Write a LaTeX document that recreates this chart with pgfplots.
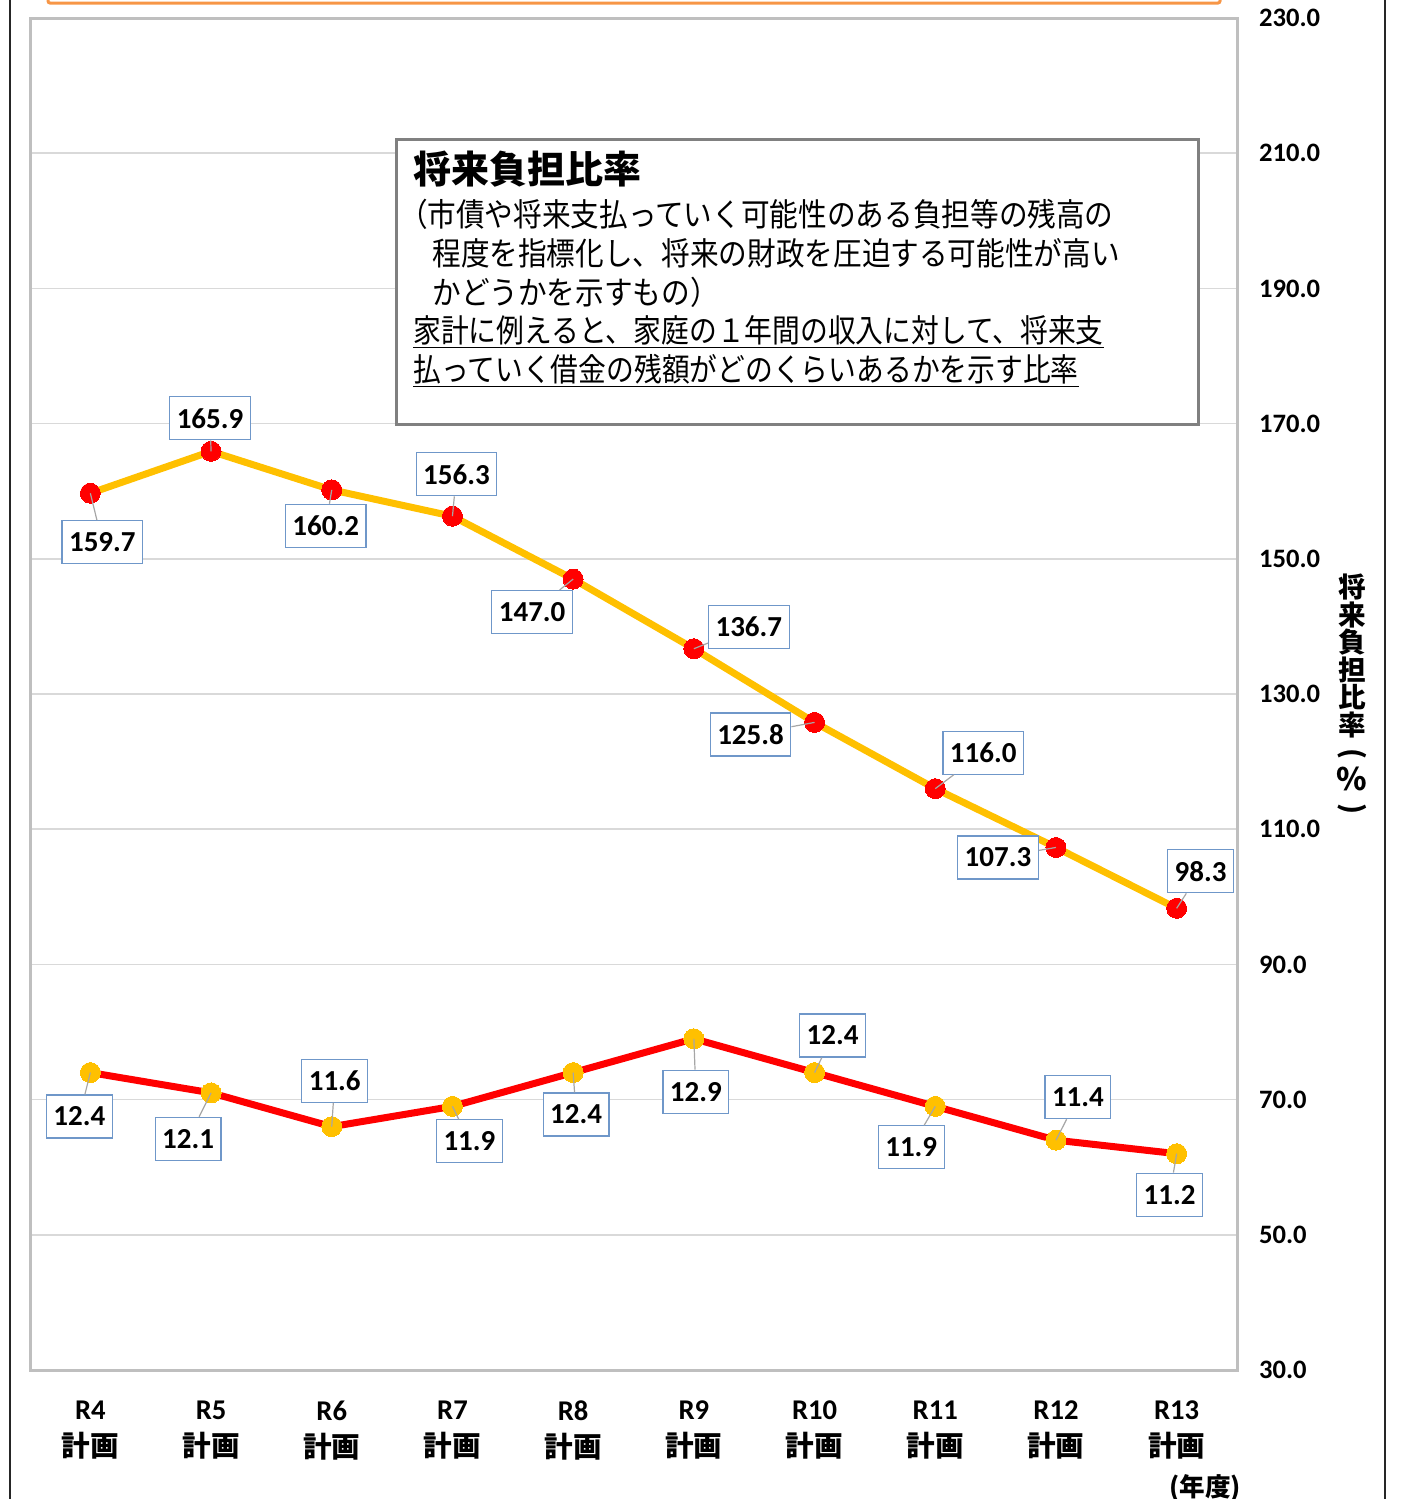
\documentclass[border=0pt]{standalone}
\usepackage{pgfplots}
\pgfplotsset{compat=1.18}
\usepackage{pgfplotstable}
\usepackage{graphicx}
\usepackage{fontspec}
\setmainfont{Carlito}
\newfontfamily\jp{Noto Sans CJK JP}
\newfontfamily\jpn[FakeStretch=0.895]{Noto Sans CJK JP}
\newfontfamily\jpm[FakeStretch=0.868]{Noto Sans CJK JP}
\definecolor{cyel}{HTML}{FFC000}
\definecolor{cred}{HTML}{FF0000}
\definecolor{cbox}{HTML}{6F97C9}
\definecolor{cgrid}{HTML}{D9D9D9}
\definecolor{cframe}{HTML}{BFBFBF}
\definecolor{clead}{HTML}{A6A6A6}
\definecolor{corange}{HTML}{F79646}
\definecolor{ctbox}{HTML}{808080}

\pgfplotsset{/pgf/number format/assume math mode=true}

\pgfplotstableread{
x y dx dy
0 159.7 6 -24.5
1 165.9 -0.5 16.5
2 160.2 -3 -18
3 156.3 2 21
4 147.0 -20.5 -16.5
5 136.7 27.5 11
6 125.8 -32 -6
7 116.0 24 18
8 107.3 -29 -5
9 98.3 12 18.5
}\tabA
\pgfplotstableread{
x y dx dy
0 12.4 -5.5 -22
1 12.1 -11.5 -23
2 11.6 1.5 23
3 11.9 8.5 -17.5
4 12.4 1.5 -21
5 12.9 1 -26.5
6 12.4 9 18.5
7 11.9 -12 -20.5
8 11.4 11 21.5
9 11.2 -3.5 -20.5
}\tabB

\pgfplotsset{lbl/.style={
  nodes near coords={\pgfmathprintnumber[fixed,fixed zerofill,precision=1]{\pgfplotspointmeta}},
  point meta=y,
  visualization depends on={\thisrow{dx}\as\dx},
  visualization depends on={\thisrow{dy}\as\dy},
  every node near coord/.style={anchor=center, xshift=\dx pt, yshift=\dy pt,
    draw=cbox, fill=white, text=black, line width=0.6pt,
    font=\bfseries\fontsize{14.5}{16}\selectfont,
    inner xsep=3.5pt, inner ysep=0pt, minimum height=21.5pt,
    append after command={([xshift=-\dx pt,yshift=-\dy pt]\tikzlastnode.center) edge[draw=clead, line width=0.6pt] (\tikzlastnode)}},
}}

\begin{document}
\begin{tikzpicture}
\path[use as bounding box] (0,0) rectangle (701pt,-749.5pt);
% outer frame pieces
\draw[black!85, line width=0.9pt] (5pt,0) -- (5pt,-749.5pt);
\draw[black!85, line width=0.9pt] (692.5pt,0) -- (692.5pt,-749.5pt);
\draw[corange, line width=1.5pt, rounded corners=1pt] (24pt,6pt) -- (24pt,-1.5pt) -- (610pt,-1.5pt) -- (610pt,6pt);

\begin{axis}[
  at={(15pt,-685pt)}, anchor=south west, scale only axis,
  width=603.5pt, height=676pt,
  xmin=-0.5, xmax=9.5, ymin=30, ymax=230,
  xtick={0,...,9},
  xticklabels={{R4\\{\jp 計画}},{R5\\{\jp 計画}},{R6\\{\jp 計画}},{R7\\{\jp 計画}},{R8\\{\jp 計画}},{R9\\{\jp 計画}},{R10\\{\jp 計画}},{R11\\{\jp 計画}},{R12\\{\jp 計画}},{R13\\{\jp 計画}}},
  ytick={30,50,...,230},
  yticklabel pos=right,
  ymajorgrids, grid style={cgrid, line width=0.8pt},
  axis line style={cframe, line width=1.5pt},
  major tick length=0pt,
  yticklabel style={font=\bfseries\fontsize{13.3}{15}\selectfont, anchor=west, xshift=7.5pt,
    /pgf/number format/fixed, /pgf/number format/fixed zerofill, /pgf/number format/precision=1},
  xticklabel style={font=\bfseries\fontsize{14.3}{18.5}\selectfont, align=center, yshift=-12pt},
  clip=false,
]
\addplot[color=cyel, line width=3.5pt, mark=*, mark size=5pt,
  mark options={solid, fill=cred, draw=cred, line width=0pt}, lbl] table[x=x,y=y]{\tabA};
\end{axis}

\begin{axis}[
  at={(15pt,-685pt)}, anchor=south west, scale only axis,
  width=603.5pt, height=676pt,
  xmin=-0.5, xmax=9.5, ymin=8, ymax=28,
  hide axis, clip=false,
]
\addplot[color=cred, line width=3.5pt, mark=*, mark size=5pt,
  mark options={solid, fill=cyel, draw=cyel, line width=0pt}, lbl] table[x=x,y=y]{\tabB};
\end{axis}

% explanatory text box
\draw[ctbox, line width=1.5pt, fill=white] (198pt,-69.5pt) rectangle (599pt,-212pt);
\node[anchor=west, inner sep=0pt, font=\jp\bfseries\fontsize{19}{22}\selectfont] at (206.5pt,-84.5pt) {将来負担比率};
\begin{scope}[every node/.style={anchor=west, inner sep=0pt, font=\jpn\fontsize{16}{19}\selectfont}]
\node at (199.3pt,-107pt) {（市債や将来支払っていく可能性のある負担等の残高の};
\node at (216pt,-126.5pt) {程度を指標化し、将来の財政を圧迫する可能性が高い};
\node at (216pt,-146pt) {かどうかを示すもの）};
\end{scope}
\begin{scope}[every node/.style={anchor=west, inner sep=0pt, font=\jpm\fontsize{16}{19}\selectfont}]
\node at (206.5pt,-166pt) {\underline{家計に例えると、家庭の１年間の収入に対して、将来支}};
\node at (206.5pt,-185.5pt) {\underline{払っていく借金の残額がどのくらいあるかを示す比率}};
\end{scope}

% right axis title (vertical)
\node[align=center, inner sep=0pt, font=\jp\bfseries\fontsize{13.8}{13.8}\selectfont] at (676pt,-348pt)
  {将\\来\\負\\担\\比\\率\\\rotatebox[origin=c]{-90}{(}\\{\fontsize{15.5}{13.8}\selectfont\%}\\\rotatebox[origin=c]{-90}{)}};

% unit
\node[font=\jp\bfseries\fontsize{12.8}{14}\selectfont, inner sep=0pt] at (602.5pt,-744pt) {(年度)};
\end{tikzpicture}
\end{document}
